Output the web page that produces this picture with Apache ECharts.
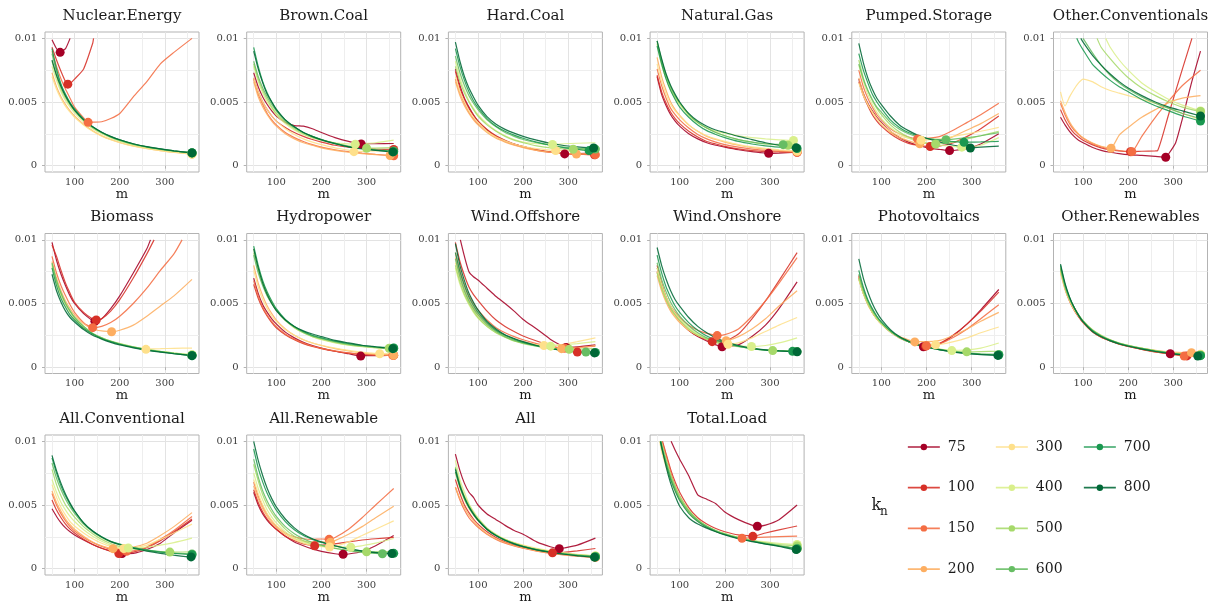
<!DOCTYPE html>
<html>
<head>
<meta charset="utf-8">
<script src="https://cdn.jsdelivr.net/npm/echarts@6/dist/echarts.min.js"></script>
<style>
  html, body { margin: 0; padding: 0; background: #fff; }
  #chart { width: 1219px; height: 605px; }
</style>
</head>
<body>
<div id="chart"></div>
<script>
// m values at which the error curves are sampled
const M = [50, 60, 70, 80, 90, 100, 120, 140, 160, 180, 200, 230, 260, 290, 320, 360];
const kn = ['75', '100', '150', '200', '300', '400', '500', '600', '700', '800'];
const knColors = ['#a50026', '#d73027', '#f46d43', '#fdae61', '#fee08b',
                  '#d9ef8b', '#a6d96a', '#66bd63', '#1a9850', '#006837'];
const xMajor = [100, 200, 300];
const xMinor = [50, 150, 250, 350];
const yMajor = [0, 0.005, 0.01];
const yMinor = [0.0025, 0.0075];

// Error curves in units of 1e-3, one row per k_n (same order as kn).
// *Min: [m, error] of each curve's minimum; *Ends: extra [row, m, error] points.
const nuclearEnergy = [
  [9.9, 9.2, 8.95, 9.2, 10.0, null, null, null, null, null, null, null, null, null, null, null],
  [9.3, 8.3, 7.4, 6.6, 6.45, 6.8, 7.6, 9.6, null, null, null, null, null, null, null, null],
  [9.0, 7.8, 6.8, 6.0, 5.3, 4.6, 3.75, 3.42, 3.45, 3.7, 4.1, 5.4, 6.6, 8.0, 8.9, 10.0],
  [7.3, 6.2, 5.4, 4.8, 4.3, 3.9, 3.25, 2.75, 2.35, 2.05, 1.82, 1.55, 1.35, 1.18, 1.05, 0.9],
  [7.0, 6.0, 5.25, 4.65, 4.2, 3.8, 3.2, 2.7, 2.32, 2.03, 1.8, 1.53, 1.33, 1.17, 1.04, 0.9],
  [7.8, 6.7, 5.8, 5.1, 4.6, 4.15, 3.45, 2.9, 2.5, 2.18, 1.93, 1.63, 1.42, 1.25, 1.11, 0.97],
  [8.2, 7.0, 6.0, 5.3, 4.75, 4.3, 3.55, 2.98, 2.56, 2.23, 1.97, 1.67, 1.45, 1.28, 1.14, 1.0],
  [8.8, 7.4, 6.3, 5.5, 4.9, 4.4, 3.6, 3.03, 2.6, 2.26, 2.0, 1.69, 1.47, 1.3, 1.15, 1.0],
  [9.2, 7.6, 6.4, 5.6, 4.95, 4.45, 3.65, 3.06, 2.62, 2.28, 2.02, 1.7, 1.48, 1.31, 1.16, 1.01],
  [8.3, 7.1, 6.2, 5.45, 4.85, 4.35, 3.6, 3.05, 2.63, 2.3, 2.03, 1.72, 1.49, 1.31, 1.16, 1.0]
];
const nuclearEnergyMin = [[68, 8.9], [85, 6.4], [130, 3.4], [360, 0.9], [360, 0.9], [360, 0.97], [360, 1.0], [360, 1.0], [360, 1.01], [360, 1.0]];
const nuclearEnergyEnds = [[1, 142, 10]];

const brownCoal = [
  [7.3, 6.2, 5.4, 4.8, 4.3, 3.9, 3.4, 3.15, 3.1, 2.9, 2.6, 2.2, 1.9, 1.72, 1.72, 1.74],
  [6.9, 5.8, 5.0, 4.4, 3.9, 3.5, 3.0, 2.6, 2.3, 2.05, 1.85, 1.6, 1.45, 1.36, 1.3, 1.27],
  [6.8, 5.6, 4.8, 4.1, 3.6, 3.2, 2.6, 2.2, 1.9, 1.65, 1.45, 1.25, 1.1, 0.98, 0.88, 0.78],
  [6.6, 5.4, 4.6, 4.0, 3.5, 3.1, 2.5, 2.1, 1.8, 1.6, 1.4, 1.2, 1.05, 0.95, 0.87, 0.81],
  [6.9, 5.8, 5.0, 4.4, 3.9, 3.5, 2.9, 2.45, 2.1, 1.85, 1.65, 1.4, 1.22, 1.12, 1.15, 1.2],
  [7.8, 6.6, 5.7, 5.0, 4.5, 4.0, 3.3, 2.8, 2.45, 2.2, 2.0, 1.8, 1.71, 1.72, 1.8, 2.0],
  [8.0, 6.8, 5.9, 5.2, 4.6, 4.1, 3.4, 2.9, 2.5, 2.2, 2.0, 1.75, 1.55, 1.4, 1.38, 1.42],
  [8.2, 7.0, 6.1, 5.4, 4.8, 4.3, 3.5, 3.0, 2.6, 2.3, 2.05, 1.75, 1.5, 1.35, 1.25, 1.15],
  [9.3, 7.8, 6.6, 5.7, 5.0, 4.45, 3.6, 3.05, 2.6, 2.3, 2.05, 1.75, 1.5, 1.35, 1.22, 1.1],
  [9.0, 7.6, 6.5, 5.6, 5.0, 4.4, 3.6, 3.05, 2.6, 2.28, 2.02, 1.72, 1.48, 1.32, 1.2, 1.08]
];
const brownCoalMin = [[288, 1.7], [360, 1.27], [360, 0.78], [352, 0.8], [272, 1.1], [275, 1.69], [300, 1.37], [360, 1.15], [360, 1.1], [358, 1.08]];
const brownCoalEnds = [];

const hardCoal = [
  [7.6, 6.3, 5.3, 4.6, 4.0, 3.5, 2.8, 2.3, 1.95, 1.7, 1.5, 1.25, 1.05, 0.93, 0.95, 1.0],
  [7.4, 6.1, 5.2, 4.5, 3.95, 3.5, 2.85, 2.35, 2.0, 1.7, 1.5, 1.25, 1.08, 0.97, 0.9, 0.85],
  [6.8, 5.7, 4.9, 4.2, 3.7, 3.3, 2.7, 2.25, 1.9, 1.65, 1.45, 1.2, 1.05, 0.95, 0.9, 0.86],
  [6.6, 5.5, 4.7, 4.1, 3.6, 3.2, 2.6, 2.15, 1.85, 1.6, 1.42, 1.2, 1.05, 0.96, 0.92, 0.95],
  [7.0, 5.8, 5.0, 4.3, 3.8, 3.4, 2.7, 2.25, 1.95, 1.7, 1.52, 1.33, 1.22, 1.2, 1.25, 1.3],
  [8.2, 6.9, 5.9, 5.1, 4.5, 4.0, 3.3, 2.75, 2.35, 2.05, 1.85, 1.72, 1.68, 1.72, 1.76, 1.8],
  [7.8, 6.6, 5.7, 5.0, 4.4, 3.9, 3.2, 2.7, 2.3, 2.0, 1.8, 1.55, 1.4, 1.32, 1.3, 1.32],
  [8.6, 7.3, 6.3, 5.5, 4.9, 4.4, 3.6, 3.05, 2.6, 2.3, 2.05, 1.8, 1.6, 1.45, 1.35, 1.3],
  [9.2, 7.8, 6.7, 5.8, 5.1, 4.55, 3.7, 3.1, 2.7, 2.4, 2.15, 1.85, 1.6, 1.42, 1.28, 1.2],
  [9.7, 8.2, 7.0, 6.1, 5.4, 4.75, 3.85, 3.25, 2.85, 2.55, 2.3, 2.0, 1.75, 1.58, 1.47, 1.4]
];
const hardCoalMin = [[292, 0.92], [358, 0.85], [360, 0.86], [318, 0.91], [272, 1.19], [265, 1.67], [311, 1.29], [360, 1.3], [346, 1.18], [356, 1.39]];
const hardCoalEnds = [];

const naturalGas = [
  [7.0, 5.6, 4.7, 4.0, 3.5, 3.1, 2.5, 2.1, 1.8, 1.6, 1.45, 1.25, 1.1, 0.99, 0.99, 1.05],
  [7.1, 5.8, 4.9, 4.2, 3.7, 3.3, 2.7, 2.25, 1.9, 1.7, 1.52, 1.32, 1.18, 1.1, 1.07, 1.05],
  [7.6, 6.3, 5.3, 4.5, 4.0, 3.6, 2.95, 2.45, 2.1, 1.85, 1.65, 1.45, 1.3, 1.2, 1.12, 1.05],
  [8.5, 7.0, 5.9, 5.0, 4.4, 3.95, 3.2, 2.7, 2.3, 2.05, 1.85, 1.6, 1.42, 1.3, 1.2, 1.1],
  [8.0, 6.6, 5.6, 4.8, 4.3, 3.9, 3.2, 2.7, 2.35, 2.1, 1.9, 1.65, 1.47, 1.35, 1.25, 1.15],
  [9.5, 7.9, 6.8, 5.9, 5.3, 4.8, 3.95, 3.35, 2.95, 2.7, 2.55, 2.35, 2.2, 2.1, 2.03, 2.0],
  [9.6, 8.2, 7.0, 6.1, 5.4, 4.9, 4.0, 3.4, 2.95, 2.6, 2.35, 2.05, 1.85, 1.7, 1.62, 1.62],
  [9.8, 8.3, 7.1, 6.2, 5.5, 4.95, 4.05, 3.4, 2.95, 2.6, 2.35, 2.05, 1.85, 1.72, 1.66, 1.68],
  [9.4, 8.0, 6.8, 5.9, 5.2, 4.6, 3.8, 3.2, 2.75, 2.45, 2.2, 1.9, 1.7, 1.55, 1.45, 1.35],
  [9.8, 8.4, 7.2, 6.3, 5.6, 5.0, 4.1, 3.5, 3.1, 2.8, 2.6, 2.3, 2.05, 1.8, 1.6, 1.4]
];
const naturalGasMin = [[297, 0.97], [360, 1.05], [360, 1.05], [360, 1.1], [360, 1.15], [352, 1.98], [340, 1.6], [329, 1.65], [360, 1.35], [358, 1.4]];
const naturalGasEnds = [];

const pumpedStorage = [
  [6.8, 5.7, 4.9, 4.3, 3.8, 3.4, 2.7, 2.2, 1.85, 1.6, 1.42, 1.27, 1.19, 1.35, 1.7, 2.5],
  [6.6, 5.5, 4.7, 4.0, 3.5, 3.1, 2.5, 2.05, 1.75, 1.6, 1.52, 1.55, 1.8, 2.3, 2.9, 3.9],
  [7.5, 6.2, 5.3, 4.6, 4.0, 3.6, 2.9, 2.5, 2.25, 2.12, 2.14, 2.3, 2.8, 3.4, 4.0, 4.9],
  [6.9, 5.7, 4.8, 4.2, 3.7, 3.3, 2.6, 2.2, 1.95, 1.74, 1.76, 1.9, 2.3, 2.8, 3.3, 4.1],
  [6.5, 5.5, 4.8, 4.2, 3.7, 3.3, 2.7, 2.35, 2.15, 2.02, 2.02, 2.1, 2.3, 2.5, 2.7, 3.0],
  [7.9, 6.6, 5.6, 4.8, 4.2, 3.7, 3.0, 2.5, 2.15, 1.9, 1.75, 1.6, 1.5, 1.46, 1.6, 2.2],
  [8.3, 6.9, 5.9, 5.1, 4.5, 4.0, 3.2, 2.65, 2.25, 1.95, 1.78, 1.72, 1.85, 2.1, 2.35, 2.7],
  [8.0, 6.8, 5.9, 5.2, 4.6, 4.2, 3.4, 2.85, 2.5, 2.25, 2.12, 2.05, 2.08, 2.2, 2.35, 2.6],
  [8.8, 7.5, 6.5, 5.6, 5.0, 4.5, 3.6, 3.0, 2.6, 2.35, 2.15, 1.98, 1.88, 1.84, 1.86, 1.9],
  [9.6, 8.1, 6.9, 6.0, 5.3, 4.8, 3.9, 3.2, 2.75, 2.4, 2.15, 1.85, 1.6, 1.42, 1.45, 1.53]
];
const pumpedStorageMin = [[251, 1.18], [208, 1.5], [180, 2.1], [185, 1.72], [188, 2.0], [278, 1.45], [220, 1.7], [243, 2.04], [283, 1.83], [297, 1.39]];
const pumpedStorageEnds = [];

const otherConventionals = [
  [3.8, 3.2, 2.7, 2.3, 2.0, 1.8, 1.45, 1.2, 1.05, 0.95, 0.87, 0.8, 0.72, 0.95, 3.7, 9.0],
  [4.4, 3.6, 3.0, 2.55, 2.25, 2.0, 1.65, 1.4, 1.25, 1.15, 1.1, 1.13, 1.16, 4.1, 7.6, null],
  [4.9, 4.0, 3.3, 2.8, 2.45, 2.15, 1.75, 1.48, 1.3, 1.18, 1.12, 2.3, 3.8, 5.1, 6.3, 7.5],
  [5.1, 4.2, 3.45, 2.9, 2.5, 2.2, 1.8, 1.52, 1.38, 2.4, 3.0, 3.8, 4.4, 4.95, 5.3, 5.5],
  [5.8, 4.7, 5.4, 6.0, 6.5, 6.8, 6.6, 6.2, 5.9, 5.7, 5.5, 5.2, 4.9, 4.5, 4.1, 3.6],
  [null, null, null, null, null, null, null, null, 9.3, 8.3, 7.5, 6.5, 5.8, 5.2, 4.75, 4.3],
  [null, null, null, null, null, null, null, 9.3, 8.4, 7.6, 6.9, 6.1, 5.5, 5.0, 4.6, 4.25],
  [null, null, null, null, null, null, 8.9, 7.9, 7.1, 6.5, 6.0, 5.4, 4.9, 4.5, 4.1, 3.7],
  [null, null, null, null, 9.7, 9.1, 8.0, 7.3, 6.7, 6.2, 5.8, 5.2, 4.7, 4.3, 3.9, 3.5],
  [null, null, null, null, null, 9.7, 8.7, 7.9, 7.2, 6.6, 6.1, 5.5, 5.0, 4.6, 4.3, 3.9]
];
const otherConventionalsMin = [[283, 0.66], [205, 1.1], [208, 1.1], [162, 1.37], [360, 3.6], [360, 4.3], [360, 4.25], [360, 3.7], [360, 3.5], [360, 3.9]];
const otherConventionalsEnds = [[0, 305, 1.8], [0, 340, 6.5], [1, 265, 1.18], [1, 341, 10], [5, 150, 10], [6, 131, 10], [7, 100, 10], [8, 86, 10], [9, 95, 10]];

const biomass = [
  [9.8, 8.4, 7.3, 6.4, 5.6, 5.0, 4.2, 3.65, 3.8, 4.6, 5.6, 7.4, 9.3, null, null, null],
  [9.6, 8.7, 7.6, 6.6, 5.8, 5.1, 4.3, 3.78, 3.8, 4.4, 5.3, 7.0, 8.9, null, null, null],
  [8.7, 7.4, 6.4, 5.6, 4.9, 4.3, 3.5, 3.12, 3.2, 3.5, 4.0, 5.0, 6.2, 7.6, 8.9, null],
  [8.3, 7.0, 6.0, 5.2, 4.6, 4.1, 3.4, 3.0, 2.85, 2.8, 2.9, 3.3, 4.0, 4.8, 5.6, 6.9],
  [7.9, 6.6, 5.6, 4.9, 4.3, 3.8, 3.1, 2.6, 2.25, 2.0, 1.8, 1.58, 1.42, 1.45, 1.48, 1.5],
  [8.0, 6.7, 5.7, 5.0, 4.4, 3.9, 3.2, 2.65, 2.3, 2.05, 1.85, 1.6, 1.4, 1.25, 1.12, 0.98],
  [8.1, 6.8, 5.8, 5.0, 4.4, 3.9, 3.2, 2.65, 2.3, 2.05, 1.85, 1.6, 1.4, 1.25, 1.1, 0.95],
  [8.2, 6.8, 5.8, 5.0, 4.4, 3.9, 3.2, 2.65, 2.3, 2.02, 1.82, 1.58, 1.38, 1.22, 1.08, 0.92],
  [7.8, 6.4, 5.4, 4.7, 4.1, 3.7, 3.05, 2.6, 2.25, 2.0, 1.8, 1.55, 1.35, 1.2, 1.06, 0.9],
  [7.3, 6.0, 5.1, 4.4, 3.9, 3.55, 2.95, 2.5, 2.2, 1.95, 1.75, 1.52, 1.32, 1.18, 1.05, 0.9]
];
const biomassMin = [[145, 3.6], [148, 3.7], [140, 3.1], [182, 2.78], [258, 1.4], [360, 0.98], [360, 0.95], [360, 0.92], [360, 0.9], [360, 0.9]];
const biomassEnds = [[0, 268, 10], [1, 276, 10], [2, 338, 10]];

const hydropower = [
  [7.0, 5.8, 4.9, 4.3, 3.8, 3.4, 2.75, 2.3, 1.95, 1.7, 1.5, 1.25, 1.05, 0.9, 0.9, 0.95],
  [6.5, 5.4, 4.6, 4.0, 3.5, 3.1, 2.55, 2.15, 1.85, 1.62, 1.45, 1.25, 1.1, 1.0, 0.95, 0.92],
  [6.8, 5.6, 4.7, 4.1, 3.6, 3.2, 2.6, 2.2, 1.9, 1.66, 1.48, 1.28, 1.12, 1.02, 0.96, 0.92],
  [8.0, 6.6, 5.6, 4.8, 4.2, 3.7, 3.0, 2.5, 2.15, 1.9, 1.7, 1.45, 1.27, 1.12, 1.02, 0.93],
  [7.6, 6.3, 5.3, 4.6, 4.0, 3.6, 2.95, 2.5, 2.15, 1.9, 1.72, 1.5, 1.32, 1.18, 1.08, 1.1],
  [9.3, 7.8, 6.7, 5.8, 5.1, 4.5, 3.7, 3.1, 2.7, 2.4, 2.15, 1.9, 1.72, 1.6, 1.52, 1.45],
  [9.0, 7.6, 6.5, 5.6, 5.0, 4.45, 3.65, 3.1, 2.7, 2.4, 2.2, 1.95, 1.75, 1.62, 1.53, 1.5],
  [8.8, 7.4, 6.4, 5.6, 5.0, 4.5, 3.7, 3.15, 2.75, 2.45, 2.25, 2.0, 1.8, 1.66, 1.56, 1.48],
  [9.5, 8.0, 6.8, 5.9, 5.2, 4.6, 3.75, 3.2, 2.8, 2.5, 2.3, 2.05, 1.85, 1.7, 1.6, 1.5],
  [9.3, 7.8, 6.6, 5.7, 5.0, 4.45, 3.7, 3.2, 2.85, 2.6, 2.4, 2.1, 1.9, 1.72, 1.6, 1.45]
];
const hydropowerMin = [[287, 0.87], [360, 0.92], [358, 0.92], [360, 0.93], [329, 1.05], [360, 1.45], [350, 1.48], [360, 1.48], [360, 1.5], [358, 1.45]];
const hydropowerEnds = [];

const windOffshore = [
  [null, null, 8.7, 7.5, 7.1, 6.85, 6.2, 5.55, 5.0, 4.4, 3.75, 3.0, 2.2, 1.6, 1.6, 1.75],
  [9.8, 8.3, 7.2, 6.3, 5.7, 5.25, 4.4, 3.7, 3.2, 2.8, 2.45, 2.05, 1.7, 1.4, 1.2, 1.25],
  [9.0, 7.6, 6.5, 5.6, 5.0, 4.5, 3.7, 3.1, 2.7, 2.4, 2.15, 1.85, 1.62, 1.5, 1.55, 1.65],
  [8.6, 7.2, 6.1, 5.3, 4.7, 4.2, 3.45, 2.9, 2.5, 2.2, 2.0, 1.75, 1.55, 1.46, 1.5, 1.7],
  [8.2, 6.9, 5.9, 5.1, 4.5, 4.0, 3.3, 2.8, 2.4, 2.1, 1.9, 1.75, 1.71, 1.8, 2.0, 2.3],
  [7.8, 6.5, 5.6, 4.9, 4.3, 3.85, 3.2, 2.7, 2.35, 2.05, 1.88, 1.72, 1.66, 1.75, 1.85, 2.0],
  [8.0, 6.7, 5.7, 5.0, 4.4, 3.9, 3.2, 2.7, 2.35, 2.05, 1.85, 1.65, 1.5, 1.42, 1.41, 1.45],
  [8.5, 7.1, 6.0, 5.2, 4.6, 4.1, 3.35, 2.8, 2.4, 2.1, 1.9, 1.65, 1.45, 1.3, 1.2, 1.2],
  [9.0, 7.5, 6.4, 5.5, 4.85, 4.3, 3.5, 2.9, 2.5, 2.2, 1.95, 1.68, 1.48, 1.32, 1.22, 1.15],
  [9.7, 8.0, 6.8, 5.8, 5.1, 4.5, 3.6, 3.0, 2.55, 2.25, 2.0, 1.7, 1.48, 1.32, 1.2, 1.12]
];
const windOffshoreMin = [[295, 1.55], [320, 1.18], [292, 1.48], [285, 1.45], [246, 1.7], [261, 1.65], [302, 1.4], [339, 1.18], [360, 1.15], [358, 1.12]];
const windOffshoreEnds = [[0, 61, 10]];

const windOnshore = [
  [7.5, 6.2, 5.3, 4.6, 4.0, 3.6, 2.9, 2.4, 2.05, 1.75, 1.62, 1.75, 2.4, 3.3, 4.6, 6.7],
  [8.0, 6.6, 5.5, 4.7, 4.1, 3.6, 2.9, 2.45, 2.15, 2.02, 2.05, 2.6, 3.8, 5.2, 6.8, 9.0],
  [7.8, 6.5, 5.5, 4.8, 4.3, 3.9, 3.3, 2.9, 2.65, 2.5, 2.55, 3.0, 4.0, 5.2, 6.6, 8.6],
  [7.2, 6.0, 5.1, 4.4, 3.9, 3.5, 2.9, 2.5, 2.25, 2.12, 2.1, 2.4, 3.0, 3.8, 4.8, 6.0],
  [7.5, 6.2, 5.3, 4.6, 4.0, 3.6, 2.95, 2.5, 2.2, 1.95, 1.82, 1.9, 2.3, 2.8, 3.3, 3.9],
  [7.8, 6.5, 5.5, 4.8, 4.2, 3.8, 3.1, 2.6, 2.25, 2.0, 1.85, 1.7, 1.63, 1.7, 1.9, 2.3],
  [7.4, 6.2, 5.3, 4.6, 4.1, 3.7, 3.0, 2.5, 2.2, 1.95, 1.8, 1.6, 1.45, 1.35, 1.3, 1.32],
  [8.2, 6.9, 5.9, 5.1, 4.5, 4.0, 3.25, 2.7, 2.3, 2.05, 1.85, 1.62, 1.45, 1.33, 1.27, 1.22],
  [8.8, 7.4, 6.3, 5.5, 4.8, 4.3, 3.5, 2.9, 2.45, 2.15, 1.92, 1.65, 1.46, 1.34, 1.28, 1.25],
  [9.4, 8.0, 6.9, 6.0, 5.3, 4.8, 3.9, 3.2, 2.7, 2.3, 2.0, 1.7, 1.5, 1.36, 1.27, 1.2]
];
const windOnshoreMin = [[194, 1.6], [172, 2.0], [183, 2.48], [203, 2.08], [207, 1.8], [259, 1.62], [306, 1.3], [360, 1.22], [350, 1.24], [360, 1.2]];
const windOnshoreEnds = [];

const photovoltaics = [
  [7.0, 5.8, 5.0, 4.3, 3.8, 3.4, 2.8, 2.35, 2.0, 1.75, 1.62, 1.85, 2.5, 3.4, 4.5, 6.1],
  [7.2, 6.0, 5.1, 4.4, 3.85, 3.4, 2.75, 2.3, 2.0, 1.78, 1.66, 1.9, 2.55, 3.4, 4.4, 5.9],
  [7.1, 5.9, 5.0, 4.3, 3.8, 3.4, 2.8, 2.35, 2.05, 1.8, 1.7, 1.85, 2.35, 3.0, 3.8, 4.9],
  [6.9, 5.8, 4.9, 4.3, 3.8, 3.4, 2.8, 2.4, 2.15, 2.0, 2.0, 2.1, 2.5, 3.0, 3.6, 4.3],
  [7.0, 5.8, 5.0, 4.3, 3.8, 3.4, 2.8, 2.35, 2.05, 1.85, 1.77, 1.78, 2.0, 2.3, 2.7, 3.15],
  [6.9, 5.8, 5.0, 4.3, 3.8, 3.4, 2.75, 2.3, 2.0, 1.78, 1.6, 1.42, 1.32, 1.35, 1.5, 1.9],
  [7.0, 5.9, 5.0, 4.35, 3.85, 3.45, 2.8, 2.35, 2.0, 1.75, 1.58, 1.4, 1.27, 1.2, 1.22, 1.25],
  [7.3, 6.1, 5.2, 4.5, 3.95, 3.5, 2.85, 2.35, 2.0, 1.75, 1.57, 1.38, 1.23, 1.12, 1.05, 1.0],
  [7.6, 6.3, 5.3, 4.6, 4.0, 3.55, 2.85, 2.35, 2.0, 1.75, 1.56, 1.36, 1.2, 1.08, 1.0, 0.95],
  [8.5, 7.0, 5.9, 5.0, 4.3, 3.75, 2.95, 2.4, 2.05, 1.78, 1.58, 1.36, 1.18, 1.06, 0.98, 0.92]
];
const photovoltaicsMin = [[193, 1.6], [198, 1.65], [200, 1.68], [174, 1.98], [220, 1.75], [256, 1.3], [289, 1.2], [360, 1.0], [360, 0.95], [358, 0.92]];
const photovoltaicsEnds = [];

const otherRenewables = [
  [7.8, 6.4, 5.4, 4.7, 4.1, 3.6, 2.9, 2.4, 2.1, 1.85, 1.65, 1.42, 1.22, 1.07, 1.06, 1.1],
  [7.6, 6.2, 5.2, 4.5, 3.95, 3.5, 2.8, 2.35, 2.05, 1.8, 1.62, 1.4, 1.2, 1.05, 0.9, 0.92],
  [7.7, 6.3, 5.3, 4.55, 4.0, 3.5, 2.8, 2.35, 2.05, 1.8, 1.62, 1.4, 1.2, 1.03, 0.88, 0.95],
  [7.4, 6.1, 5.2, 4.5, 4.0, 3.6, 2.9, 2.45, 2.1, 1.85, 1.68, 1.48, 1.32, 1.2, 1.15, 1.2],
  [7.5, 6.2, 5.3, 4.6, 4.05, 3.6, 2.95, 2.48, 2.15, 1.9, 1.7, 1.48, 1.3, 1.17, 1.08, 1.02],
  [7.6, 6.3, 5.3, 4.6, 4.05, 3.6, 2.9, 2.45, 2.12, 1.88, 1.7, 1.48, 1.3, 1.15, 1.05, 0.98],
  [7.8, 6.4, 5.4, 4.7, 4.1, 3.65, 2.95, 2.5, 2.15, 1.9, 1.72, 1.5, 1.3, 1.15, 1.04, 0.95],
  [7.7, 6.3, 5.35, 4.65, 4.1, 3.6, 2.92, 2.45, 2.12, 1.88, 1.7, 1.48, 1.28, 1.12, 1.0, 0.92],
  [8.0, 6.5, 5.5, 4.7, 4.1, 3.6, 2.88, 2.42, 2.1, 1.85, 1.66, 1.43, 1.25, 1.1, 0.98, 0.9],
  [8.1, 6.6, 5.5, 4.7, 4.05, 3.55, 2.82, 2.38, 2.06, 1.82, 1.64, 1.42, 1.23, 1.08, 0.96, 0.87]
];
const otherRenewablesMin = [[293, 1.05], [330, 0.88], [324, 0.87], [340, 1.14], [360, 1.02], [360, 0.98], [360, 0.95], [360, 0.92], [360, 0.9], [354, 0.87]];
const otherRenewablesEnds = [];

const allConventional = [
  [4.7, 4.1, 3.6, 3.2, 2.9, 2.65, 2.25, 1.9, 1.6, 1.38, 1.22, 1.2, 1.5, 2.0, 2.8, 3.8],
  [5.4, 4.6, 4.0, 3.5, 3.1, 2.8, 2.3, 1.9, 1.6, 1.38, 1.2, 1.3, 1.65, 2.2, 2.9, 3.9],
  [5.9, 5.0, 4.3, 3.75, 3.3, 2.95, 2.45, 2.05, 1.75, 1.52, 1.38, 1.4, 1.7, 2.3, 3.0, 4.1],
  [6.1, 5.2, 4.5, 3.9, 3.45, 3.1, 2.55, 2.1, 1.8, 1.6, 1.58, 1.7, 2.0, 2.6, 3.3, 4.4],
  [6.6, 5.6, 4.8, 4.2, 3.7, 3.35, 2.8, 2.35, 2.0, 1.75, 1.6, 1.62, 1.85, 2.3, 2.8, 3.5],
  [7.0, 6.0, 5.2, 4.6, 4.1, 3.7, 3.05, 2.55, 2.15, 1.85, 1.67, 1.63, 1.7, 1.85, 2.05, 2.4],
  [7.8, 6.6, 5.7, 5.0, 4.5, 4.05, 3.3, 2.75, 2.3, 1.98, 1.75, 1.55, 1.42, 1.33, 1.3, 1.32],
  [8.3, 7.1, 6.2, 5.45, 4.85, 4.35, 3.5, 2.9, 2.45, 2.12, 1.9, 1.65, 1.47, 1.33, 1.22, 1.15],
  [8.7, 7.5, 6.5, 5.7, 5.05, 4.5, 3.6, 2.95, 2.5, 2.15, 1.92, 1.65, 1.45, 1.3, 1.2, 1.1],
  [8.9, 7.7, 6.7, 5.85, 5.15, 4.55, 3.6, 2.95, 2.48, 2.12, 1.88, 1.6, 1.38, 1.2, 1.05, 0.92]
];
const allConventionalMin = [[205, 1.18], [198, 1.18], [215, 1.36], [185, 1.57], [209, 1.58], [219, 1.62], [311, 1.3], [360, 1.15], [360, 1.1], [358, 0.92]];
const allConventionalEnds = [];

const allRenewable = [
  [6.0, 5.0, 4.3, 3.8, 3.4, 3.1, 2.55, 2.1, 1.8, 1.55, 1.35, 1.17, 1.15, 1.35, 1.8, 2.6],
  [6.2, 5.2, 4.45, 3.9, 3.45, 3.1, 2.55, 2.2, 1.95, 1.82, 1.85, 1.95, 2.1, 2.25, 2.35, 2.45],
  [6.8, 5.7, 4.9, 4.25, 3.75, 3.35, 2.8, 2.5, 2.35, 2.3, 2.33, 2.45, 3.1, 4.0, 5.0, 6.3],
  [6.5, 5.5, 4.7, 4.1, 3.6, 3.25, 2.7, 2.35, 2.15, 2.1, 2.1, 2.2, 2.7, 3.3, 4.0, 4.9],
  [7.0, 5.9, 5.0, 4.3, 3.8, 3.4, 2.75, 2.3, 2.0, 1.8, 1.72, 1.75, 2.1, 2.6, 3.1, 3.75],
  [7.5, 6.3, 5.4, 4.6, 4.05, 3.6, 2.9, 2.4, 2.1, 1.9, 1.8, 1.72, 1.7, 1.8, 2.0, 2.37],
  [8.2, 6.9, 5.8, 5.0, 4.4, 3.9, 3.1, 2.55, 2.2, 1.95, 1.78, 1.58, 1.43, 1.34, 1.32, 1.35],
  [8.6, 7.2, 6.1, 5.3, 4.65, 4.1, 3.3, 2.75, 2.35, 2.05, 1.85, 1.6, 1.42, 1.28, 1.2, 1.18],
  [9.4, 7.9, 6.8, 5.9, 5.2, 4.6, 3.7, 3.05, 2.6, 2.3, 2.05, 1.78, 1.56, 1.4, 1.28, 1.2],
  [10.0, 8.5, 7.3, 6.3, 5.5, 4.85, 3.9, 3.2, 2.7, 2.35, 2.1, 1.8, 1.55, 1.38, 1.26, 1.18]
];
const allRenewableMin = [[248, 1.13], [185, 1.8], [217, 2.3], [220, 2.08], [218, 1.7], [265, 1.68], [300, 1.32], [335, 1.17], [360, 1.2], [356, 1.18]];
const allRenewableEnds = [];

const allSources = [
  [9.0, 7.7, 6.7, 6.0, 5.6, 5.0, 4.3, 3.85, 3.4, 3.0, 2.7, 2.1, 1.72, 1.62, 1.85, 2.4],
  [7.0, 5.9, 5.0, 4.4, 3.9, 3.5, 2.9, 2.45, 2.1, 1.85, 1.65, 1.45, 1.26, 1.28, 1.4, 1.58],
  [6.4, 5.4, 4.6, 4.0, 3.6, 3.25, 2.7, 2.3, 2.0, 1.78, 1.6, 1.38, 1.2, 1.08, 0.98, 0.88],
  [6.4, 5.5, 4.8, 4.2, 3.75, 3.35, 2.75, 2.35, 2.05, 1.8, 1.62, 1.4, 1.23, 1.1, 1.0, 0.9],
  [7.5, 6.3, 5.4, 4.7, 4.2, 3.75, 3.1, 2.65, 2.3, 2.05, 1.85, 1.6, 1.4, 1.25, 1.12, 1.0],
  [8.5, 7.0, 6.0, 5.1, 4.5, 4.0, 3.2, 2.7, 2.3, 2.02, 1.8, 1.55, 1.36, 1.22, 1.1, 1.0],
  [8.0, 6.7, 5.7, 5.0, 4.4, 3.9, 3.15, 2.65, 2.28, 2.0, 1.78, 1.53, 1.34, 1.2, 1.08, 0.98],
  [7.9, 6.6, 5.6, 4.9, 4.3, 3.85, 3.1, 2.6, 2.24, 1.97, 1.75, 1.5, 1.32, 1.18, 1.06, 0.95],
  [7.6, 6.4, 5.5, 4.8, 4.25, 3.8, 3.08, 2.58, 2.22, 1.95, 1.73, 1.48, 1.3, 1.15, 1.03, 0.92],
  [7.8, 6.5, 5.6, 4.85, 4.3, 3.82, 3.1, 2.6, 2.23, 1.95, 1.73, 1.47, 1.28, 1.13, 1.01, 0.9]
];
const allSourcesMin = [[280, 1.57], [265, 1.24], [360, 0.88], [360, 0.9], [360, 1.0], [360, 1.0], [360, 0.98], [360, 0.95], [360, 0.92], [358, 0.9]];
const allSourcesEnds = [];

const totalLoad = [
  [null, null, null, null, 9.3, 8.6, 7.3, 5.8, 5.45, 5.1, 4.45, 3.85, 3.42, 3.42, 3.85, 5.0],
  [null, null, 9.0, 7.8, 6.8, 6.0, 4.8, 4.0, 3.5, 3.15, 2.9, 2.65, 2.56, 2.8, 3.05, 3.35],
  [null, null, 8.9, 7.6, 6.5, 5.7, 4.55, 3.8, 3.3, 2.95, 2.7, 2.42, 2.42, 2.48, 2.52, 2.55],
  [null, 9.4, 8.2, 7.1, 6.2, 5.5, 4.45, 3.75, 3.28, 2.95, 2.7, 2.4, 2.2, 2.0, 1.8, 1.6],
  [null, 9.2, 8.0, 7.0, 6.1, 5.4, 4.4, 3.72, 3.27, 2.94, 2.7, 2.4, 2.18, 1.98, 1.8, 1.55],
  [null, 9.7, 8.4, 7.3, 6.35, 5.6, 4.55, 3.85, 3.35, 3.0, 2.75, 2.45, 2.25, 2.1, 1.98, 1.9],
  [null, 9.9, 8.6, 7.4, 6.5, 5.7, 4.6, 3.85, 3.35, 3.0, 2.75, 2.45, 2.2, 2.02, 1.88, 1.78],
  [null, 9.7, 8.4, 7.2, 6.3, 5.5, 4.5, 3.8, 3.32, 2.98, 2.72, 2.42, 2.18, 1.98, 1.8, 1.6],
  [null, 9.5, 8.2, 7.0, 6.1, 5.35, 4.35, 3.7, 3.25, 2.92, 2.68, 2.38, 2.15, 1.95, 1.78, 1.55],
  [null, 9.6, 8.0, 6.7, 5.7, 4.9, 4.0, 3.5, 3.18, 2.9, 2.65, 2.35, 2.12, 1.93, 1.75, 1.5]
];
const totalLoadMin = [[272, 3.33], [262, 2.54], [238, 2.38], [360, 1.6], [360, 1.55], [360, 1.9], [360, 1.78], [360, 1.6], [360, 1.55], [358, 1.5]];
const totalLoadEnds = [[0, 81, 10], [1, 62, 10], [2, 61, 10], [3, 57, 10], [4, 56, 10], [5, 58, 10], [6, 59, 10], [7, 58, 10], [8, 57, 10], [9, 58, 10]];

const panelNames = ['Nuclear.Energy', 'Brown.Coal', 'Hard.Coal', 'Natural.Gas', 'Pumped.Storage', 'Other.Conventionals',
  'Biomass', 'Hydropower', 'Wind.Offshore', 'Wind.Onshore', 'Photovoltaics', 'Other.Renewables',
  'All.Conventional', 'All.Renewable', 'All', 'Total.Load'];
const panelRows = [nuclearEnergy, brownCoal, hardCoal, naturalGas, pumpedStorage, otherConventionals,
  biomass, hydropower, windOffshore, windOnshore, photovoltaics, otherRenewables,
  allConventional, allRenewable, allSources, totalLoad];
const panelMins = [nuclearEnergyMin, brownCoalMin, hardCoalMin, naturalGasMin, pumpedStorageMin, otherConventionalsMin,
  biomassMin, hydropowerMin, windOffshoreMin, windOnshoreMin, photovoltaicsMin, otherRenewablesMin,
  allConventionalMin, allRenewableMin, allSourcesMin, totalLoadMin];
const panelEnds = [nuclearEnergyEnds, brownCoalEnds, hardCoalEnds, naturalGasEnds, pumpedStorageEnds, otherConventionalsEnds,
  biomassEnds, hydropowerEnds, windOffshoreEnds, windOnshoreEnds, photovoltaicsEnds, otherRenewablesEnds,
  allConventionalEnds, allRenewableEnds, allSourcesEnds, totalLoadEnds];

// ---- layout ----
const FONT = '"DejaVu Serif", serif';
const LEFT0 = 45, DX = 201.7, PW = 154;
const TOP0 = 32, DY = 201.5, PH = 140;
const X_MIN = 34.5, X_MAX = 375.5;
const Y_MIN = -0.0005, Y_MAX = 0.0105;

// Build one curve: grid samples + extra points + its minimum, sorted by m, in raw units
function curve(row, min, ends, k) {
  const pts = [];
  row.forEach((v, j) => { if (v != null) pts.push([M[j], v]); });
  ends.filter(e => e[0] === k).forEach(e => pts.push([e[1], e[2]]));
  const idx = pts.findIndex(p => p[0] === min[0]);
  if (idx >= 0) pts[idx][1] = min[1]; else pts.push([min[0], min[1]]);
  pts.sort((a, b) => a[0] - b[0]);
  return pts.map(p => [p[0], p[1] / 1000]);
}

const grids = [], xAxes = [], yAxes = [], series = [], graphics = [];
const labelStyle = { fontFamily: FONT, fontSize: 10, color: '#3d3d3d' };

panelNames.forEach((name, i) => {
  const col = i % 6, row = Math.floor(i / 6);
  const left = LEFT0 + col * DX, top = TOP0 + row * DY;
  grids.push({ left, top, width: PW, height: PH, show: true, borderColor: '#b3b3b3', borderWidth: 1, backgroundColor: '#fff' });

  xAxes.push({
    gridIndex: i, type: 'value', min: X_MIN, max: X_MAX, position: 'bottom',
    name: 'm', nameLocation: 'middle', nameGap: 15,
    nameTextStyle: { fontFamily: FONT, fontSize: 13, color: '#1a1a1a' },
    axisLine: { show: false },
    axisTick: { show: true, length: 3, lineStyle: { color: '#b3b3b3' }, customValues: xMajor },
    axisLabel: Object.assign({ customValues: xMajor, margin: 5 }, labelStyle),
    splitLine: { show: true, lineStyle: { color: '#e3e3e3', width: 1 } }
  });
  xAxes.push({
    gridIndex: i, type: 'value', min: X_MIN, max: X_MAX, position: 'top',
    axisLine: { show: false },
    axisTick: { show: false, customValues: xMinor },
    axisLabel: { show: false, customValues: xMinor },
    splitLine: { show: true, lineStyle: { color: '#eeeeee', width: 1 } }
  });
  yAxes.push({
    gridIndex: i, type: 'value', min: Y_MIN, max: Y_MAX, position: 'left',
    axisLine: { show: false },
    axisTick: { show: true, length: 3, lineStyle: { color: '#b3b3b3' }, customValues: yMajor },
    axisLabel: Object.assign({ customValues: yMajor, margin: 8, formatter: v => (v === 0 ? '0' : String(v)) }, labelStyle),
    splitLine: { show: true, lineStyle: { color: '#e3e3e3', width: 1 } }
  });
  yAxes.push({
    gridIndex: i, type: 'value', min: Y_MIN, max: Y_MAX, position: 'right',
    axisLine: { show: false },
    axisTick: { show: false, customValues: yMinor },
    axisLabel: { show: false, customValues: yMinor },
    splitLine: { show: true, lineStyle: { color: '#eeeeee', width: 1 } }
  });

  graphics.push({
    type: 'text', x: left + PW / 2, y: top - 16, silent: true,
    style: { text: name, font: '15px ' + FONT, fill: '#1a1a1a', align: 'center', verticalAlign: 'middle' }
  });

  const rows = panelRows[i], mins = panelMins[i], ends = panelEnds[i];
  rows.forEach((r, k) => {
    const color = knColors[k];
    const mn = mins[k];
    series.push({
      type: 'line', name: kn[k], xAxisIndex: 2 * i, yAxisIndex: 2 * i,
      data: curve(r, mn, ends, k),
      showSymbol: false, symbol: 'circle', smooth: 0.2, connectNulls: false,
      lineStyle: { width: 1.2, color, opacity: 0.88 },
      itemStyle: { color },
      emphasis: { disabled: true },
      markPoint: {
        symbol: 'circle', symbolSize: 9, silent: true, animation: false,
        label: { show: false },
        itemStyle: { color, opacity: 1 },
        data: [{ coord: [mn[0], mn[1] / 1000] }]
      },
      animation: false
    });
  });
});

// legend: three columns of k_n values
const legendCols = [['75', '100', '150', '200'], ['300', '400', '500', '600'], ['700', '800']];
const legendLeft = [902, 990, 1078];
const legends = legendCols.map((names, c) => ({
  orient: 'vertical', left: legendLeft[c], top: 435,
  itemWidth: 32, itemHeight: 8, itemGap: 26.7,
  selectedMode: false,
  data: names,
  lineStyle: { width: 1.7 },
  textStyle: { fontFamily: FONT, fontSize: 14, color: '#1a1a1a', padding: [0, 0, 0, 3] }
}));

graphics.push({ type: 'text', x: 871.5, y: 506, silent: true,
  style: { text: 'k', font: '16px ' + FONT, fill: '#1a1a1a', align: 'left', verticalAlign: 'middle' } });
graphics.push({ type: 'text', x: 880, y: 512, silent: true,
  style: { text: 'n', font: '12px ' + FONT, fill: '#1a1a1a', align: 'left', verticalAlign: 'middle' } });

const chart = echarts.init(document.getElementById('chart'), null, { renderer: 'canvas' });
chart.setOption({
  backgroundColor: '#fff',
  animation: false,
  grid: grids,
  xAxis: xAxes,
  yAxis: yAxes,
  legend: legends,
  graphic: graphics,
  series: series
});
</script>
</body>
</html>
